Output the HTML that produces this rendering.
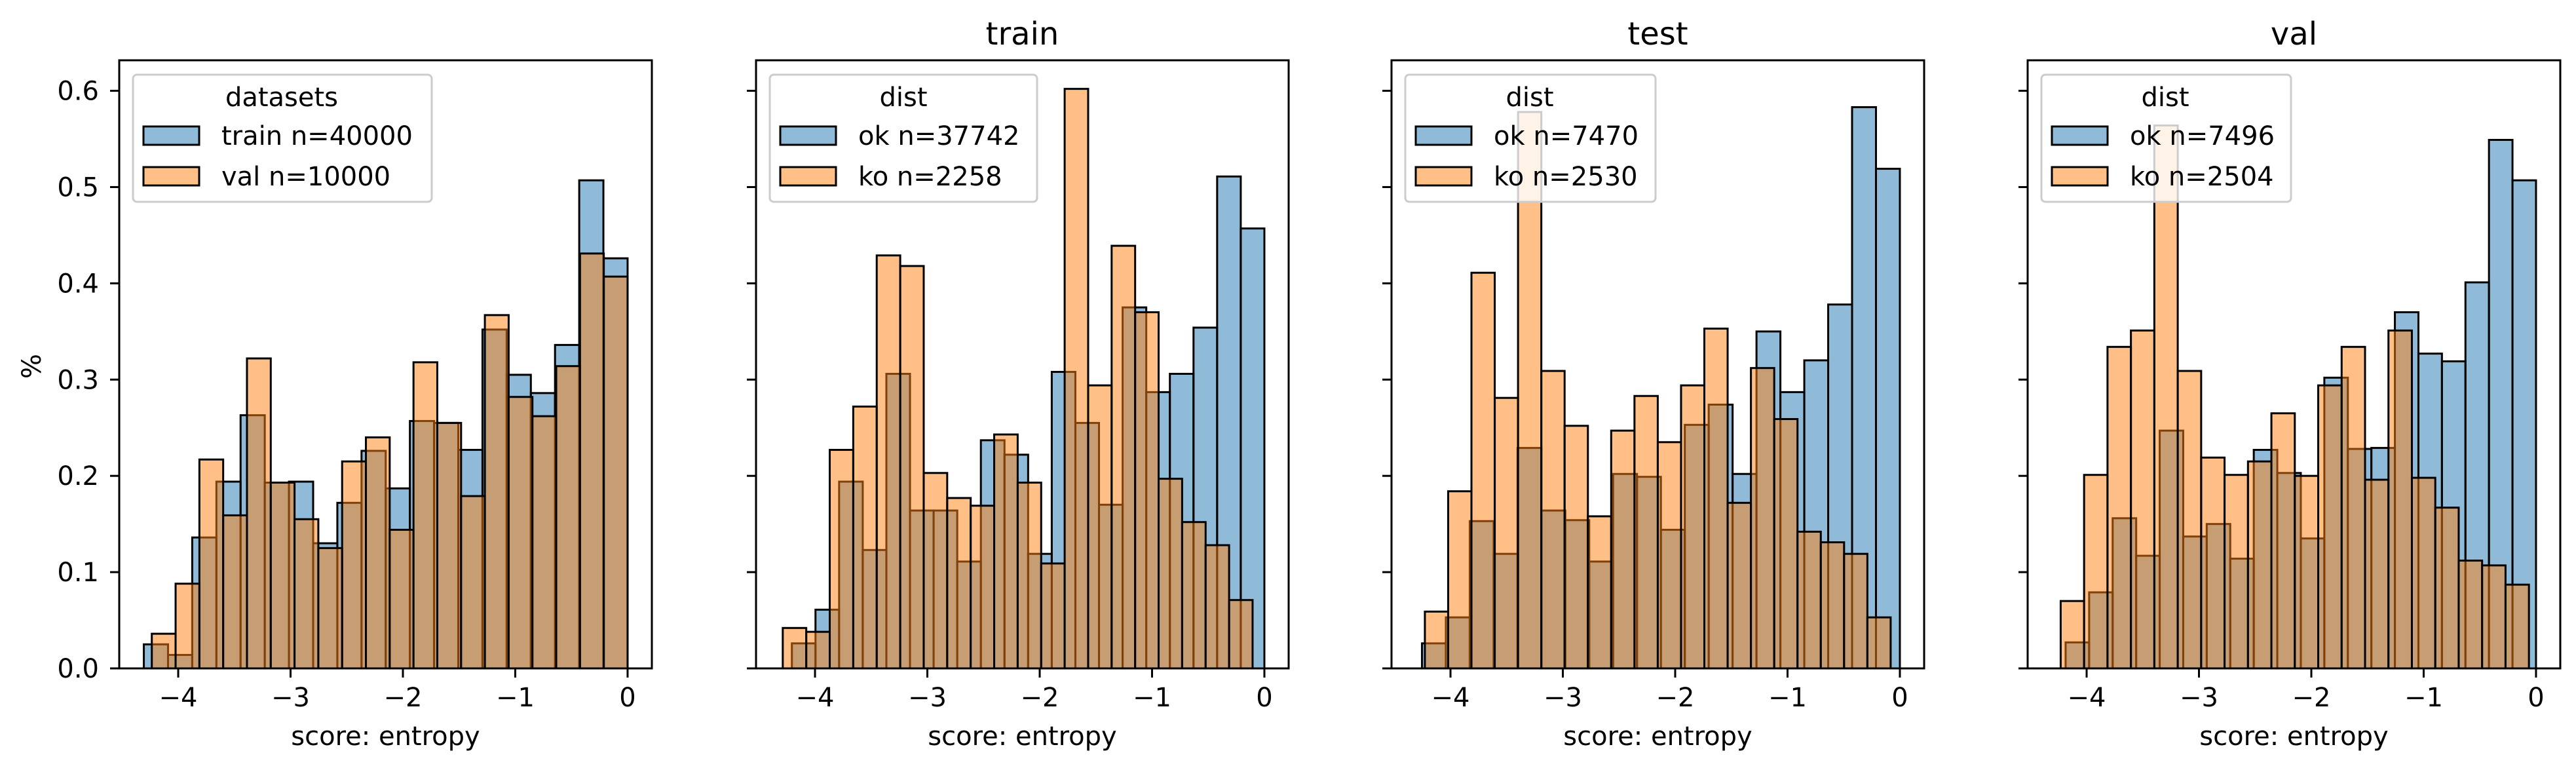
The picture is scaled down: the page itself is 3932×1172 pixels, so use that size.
<!DOCTYPE html>
<html><head><meta charset="utf-8"><style>
html,body{margin:0;padding:0;background:#fff;}
svg{display:block;font-family:"DejaVu Sans","Liberation Sans",sans-serif;}
</style></head><body>
<svg id="chart" width="3932" height="1172" viewBox="0 0 3932 1172" xmlns="http://www.w3.org/2000/svg"></svg>
<script>
// ---- data ----
const panelTitles = ["", "train", "test", "val"];
const legendTitles = ["datasets", "dist", "dist", "dist"];
const labelsA = ["train n=40000", "ok n=37742", "ok n=7470", "ok n=7496"];
const labelsB = ["val n=10000", "ko n=2258", "ko n=2530", "ko n=2504"];
const rangeA = [[-4.306, 0], [-4.206, 0], [-4.254, 0], [-4.187, 0]];
const rangeB = [[-4.235, 0], [-4.287, -0.105], [-4.228, -0.082], [-4.231, -0.063]];
const valuesA0 = [0.025,0.014,0.136,0.194,0.263,0.193,0.194,0.130,0.172,0.226,0.187,0.257,0.255,0.227,0.352,0.305,0.286,0.336,0.507,0.426];
const valuesB0 = [0.036,0.088,0.217,0.159,0.322,0.193,0.155,0.125,0.215,0.240,0.144,0.318,0.255,0.179,0.367,0.282,0.262,0.314,0.431,0.407];
const valuesA1 = [0.026,0.061,0.194,0.123,0.306,0.164,0.164,0.111,0.237,0.222,0.119,0.308,0.255,0.170,0.375,0.287,0.306,0.354,0.511,0.457];
const valuesB1 = [0.042,0.038,0.227,0.272,0.429,0.418,0.203,0.177,0.169,0.243,0.193,0.109,0.602,0.294,0.439,0.370,0.197,0.152,0.128,0.071];
const valuesA2 = [0.026,0.053,0.153,0.119,0.229,0.164,0.154,0.111,0.202,0.199,0.144,0.253,0.274,0.202,0.350,0.287,0.320,0.378,0.583,0.519];
const valuesB2 = [0.059,0.184,0.411,0.281,0.578,0.309,0.252,0.158,0.247,0.283,0.235,0.294,0.353,0.172,0.312,0.259,0.142,0.131,0.119,0.053];
const valuesA3 = [0.027,0.079,0.156,0.117,0.247,0.137,0.150,0.114,0.227,0.203,0.135,0.302,0.228,0.229,0.370,0.327,0.319,0.401,0.549,0.507];
const valuesB3 = [0.070,0.201,0.334,0.351,0.564,0.309,0.219,0.201,0.215,0.265,0.200,0.294,0.334,0.196,0.351,0.198,0.167,0.112,0.107,0.087];
const seriesA = [valuesA0, valuesA1, valuesA2, valuesA3];
const seriesB = [valuesB0, valuesB1, valuesB2, valuesB3];
const xTicks = [-4, -3, -2, -1, 0];
const yTicks = [0.0, 0.1, 0.2, 0.3, 0.4, 0.5, 0.6];

// ---- layout ----
const NS = "http://www.w3.org/2000/svg";
const svg = document.getElementById("chart");
const axLefts = [182, 1154, 2124, 3095];
const axW = 813, axTop = 92, axBottom = 1020;
const xMin = -4.525, xMax = 0.216, yMax = 0.6317;
function mk(tag, attrs, parent) {
  const e = document.createElementNS(NS, tag);
  for (const k in attrs) e.setAttribute(k, attrs[k]);
  (parent || svg).appendChild(e);
  return e;
}
function fmtX(v) { return v < 0 ? "\u2212" + Math.abs(v) : String(v); }

for (let p = 0; p < 4; p++) {
  const L = axLefts[p];
  const sx = v => L + (v - xMin) / (xMax - xMin) * axW;
  const sy = v => axBottom - v / yMax * (axBottom - axTop);
  const g = mk("g", {});
  
  

  const drawSeries = (vals, rng, fill, nm) => {
    const n = vals.length, w = (rng[1] - rng[0]) / n;
    for (let i = 0; i < n; i++) {
      const x0 = sx(rng[0] + i * w), x1 = sx(rng[0] + (i + 1) * w);
      const r = mk("rect", {x: x0, y: sy(vals[i]), width: x1 - x0, height: axBottom - sy(vals[i]),
        fill: fill, "fill-opacity": 0.5, stroke: "#000", "stroke-width": 3}, g);
      
      
    }
  };
  drawSeries(seriesA[p], rangeA[p], "#1f77b4", "series-a");
  drawSeries(seriesB[p], rangeB[p], "#ff7f0e", "series-b");

  // axes frame
  const fr = mk("rect", {x: L, y: axTop, width: axW, height: axBottom - axTop, fill: "none", stroke: "#000", "stroke-width": 3}, g);
  
  

  // x ticks
  xTicks.forEach(t => {
    mk("line", {x1: sx(t), x2: sx(t), y1: axBottom, y2: axBottom + 14, stroke: "#000", "stroke-width": 3}, g);
    const tx = mk("text", {x: sx(t), y: 1078, "font-size": 40, "text-anchor": "middle"}, g);
    tx.textContent = fmtX(t);
    
    
  });
  // y ticks
  yTicks.forEach(t => {
    mk("line", {x1: L - 14, x2: L, y1: sy(t), y2: sy(t), stroke: "#000", "stroke-width": 3}, g);
    if (p === 0) {
      const ty = mk("text", {x: 151, y: sy(t) + 14, "font-size": 40, "text-anchor": "end"}, g);
      ty.textContent = t.toFixed(1);
      
      
    }
  });
  const xl = mk("text", {x: L + axW / 2, y: 1137, "font-size": 40, "text-anchor": "middle"}, g);
  xl.textContent = "score: entropy";
  
  
  if (panelTitles[p]) {
    const tt = mk("text", {x: L + axW / 2, y: 68, "font-size": 48, "text-anchor": "middle"}, g);
    tt.textContent = panelTitles[p];
    
    
  }
  if (p === 0) {
    const yl = mk("text", {x: 0, y: 0, "font-size": 40, "text-anchor": "middle", transform: "translate(62,559) rotate(-90)"}, g);
    yl.textContent = "%";
    
    
  }

  // legend
  const lx = L + 21, lw = [456, 408, 382, 381][p];
  const lg = mk("g", {}, g);
  
  
  mk("rect", {x: lx, y: 114, width: lw, height: 194, rx: 6, fill: "#fff", "fill-opacity": 0.8, stroke: "#ccc", "stroke-width": 3}, lg);
  const lt = mk("text", {x: lx + [227, 204, 190, 189][p], y: 162, "font-size": 40, "text-anchor": "middle"}, lg);
  lt.textContent = legendTitles[p];
  
  
  [[labelsA[p], "#1f77b4", 193], [labelsB[p], "#ff7f0e", 255]].forEach(([lab, col, y], k) => {
    const pr = mk("rect", {x: lx + 16, y: y, width: 85, height: 28, fill: col, "fill-opacity": 0.5, stroke: "#000", "stroke-width": 3}, lg);
    
    
    const te = mk("text", {x: lx + 135, y: y + 28, "font-size": 40}, lg);
    te.textContent = lab;
    
    
  });
}
</script>
</body></html>
